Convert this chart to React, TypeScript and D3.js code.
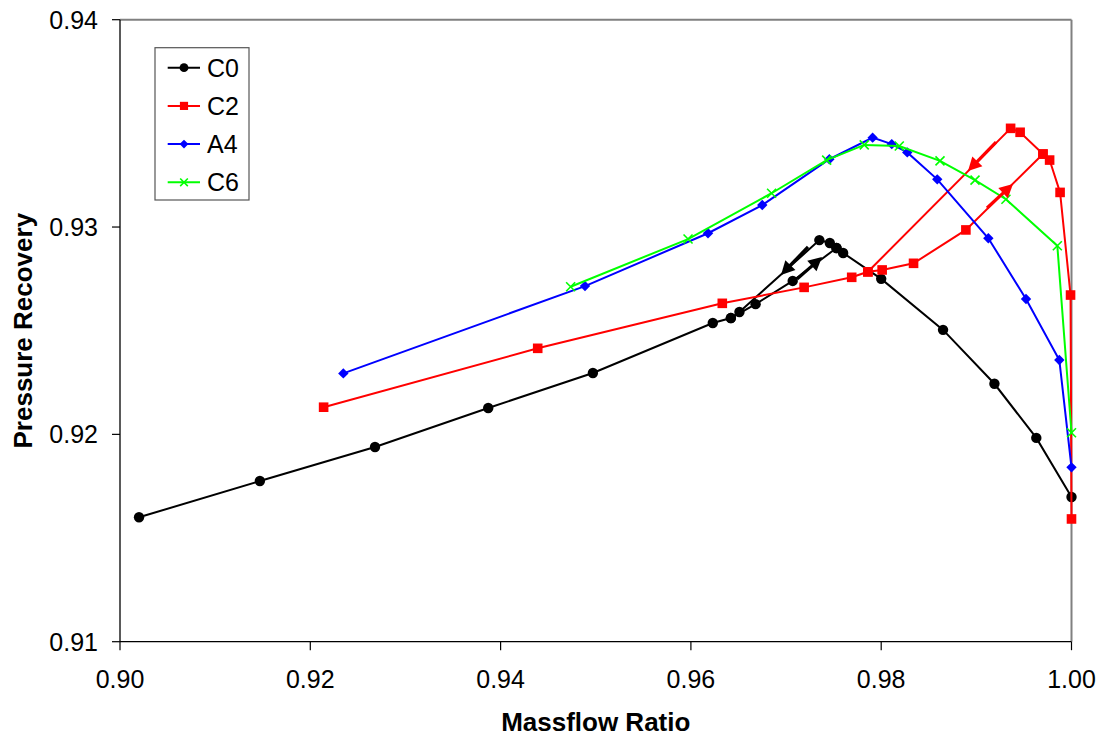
import React from "react";
import * as d3 from "d3";

type Pt = [number, number];

const xTicks = [0.9, 0.92, 0.94, 0.96, 0.98, 1.0];
const yTicks = [0.91, 0.92, 0.93, 0.94];

// C0: high-flow to low-flow sweep, then recovery branch
const c0Sweep: Pt[] = [
  [1.0, 0.91698],
  [0.9963, 0.91983],
  [0.9919, 0.92244],
  [0.9865, 0.92504],
  [0.98, 0.9275],
  [0.976, 0.92875],
  [0.9753, 0.92899],
  [0.9746, 0.92923],
  [0.9735, 0.92937],
  [0.9651, 0.9259],
  [0.9642, 0.92561],
  [0.9623, 0.92537],
  [0.9497, 0.92296],
  [0.9387, 0.92127],
  [0.9268, 0.91939],
  [0.9147, 0.91775],
  [0.902, 0.916],
];
const c0Return: Pt[] = [
  [0.9642, 0.92561],
  [0.9668, 0.92628],
  [0.9707, 0.9274],
  [0.9753, 0.92899],
];

const c2Sweep: Pt[] = [
  [1.0, 0.91592],
  [0.9999, 0.92672],
  [0.9988, 0.93167],
  [0.9977, 0.93323],
  [0.997, 0.93352],
  [0.9946, 0.93457],
  [0.9936, 0.93476],
  [0.9786, 0.92784],
  [0.9769, 0.927575],
  [0.9719, 0.92709],
  [0.9633, 0.92632],
  [0.9439, 0.92415],
  [0.9214, 0.92131],
];
const c2Return: Pt[] = [
  [0.9786, 0.92784],
  [0.9801, 0.92793],
  [0.9834, 0.92825],
  [0.9889, 0.92986],
  [0.997, 0.93352],
];

const a4: Pt[] = [
  [0.92347, 0.92294],
  [0.94887, 0.92715],
  [0.9618, 0.9297],
  [0.9675, 0.93106],
  [0.97455, 0.93327],
  [0.9791, 0.93431],
  [0.98111, 0.934],
  [0.98274, 0.9336],
  [0.98589, 0.9323],
  [0.99126, 0.92946],
  [0.99522, 0.92653],
  [0.99872, 0.92359],
  [1.0, 0.91841],
];

const c6: Pt[] = [
  [0.94736, 0.92712],
  [0.9597, 0.92942],
  [0.96848, 0.93163],
  [0.97427, 0.93323],
  [0.97822, 0.93396],
  [0.9819, 0.93391],
  [0.98618, 0.93319],
  [0.98986, 0.93226],
  [0.99311, 0.93134],
  [0.99851, 0.9291],
  [1.0, 0.92008],
];

// hysteresis arrows (data coordinates)
const c0ArrowFrom: Pt[] = [
  [0.97231, 0.92904],
  [0.97115, 0.92749],
];
const c0ArrowTo: Pt[] = [
  [0.96947, 0.92769],
  [0.97378, 0.92855],
];
const c2ArrowFrom: Pt[] = [
  [0.99207, 0.9341],
  [0.99112, 0.93092],
];
const c2ArrowTo: Pt[] = [
  [0.98912, 0.9327],
  [0.99385, 0.93208],
];

const seriesNames = ["C0", "C2", "A4", "C6"];

const W = 1104;
const H = 738;
const L = 120;
const R = 1071.5;
const T = 19.7;
const B = 641.7;
const FONT = "'Liberation Sans', Arial, Helvetica, sans-serif";

const x = d3.scaleLinear().domain([0.9, 1.0]).range([L, R]);
const y = d3.scaleLinear().domain([0.91, 0.94]).range([B, T]);
const line = d3
  .line<Pt>()
  .x((d) => x(d[0]))
  .y((d) => y(d[1]));

const COLORS: Record<string, string> = {
  C0: "#000000",
  C2: "#FF0000",
  A4: "#0000FF",
  C6: "#00FF00",
};

function Marker({ kind, cx, cy, s = 1 }: { kind: string; cx: number; cy: number; s?: number }) {
  const c = COLORS[kind];
  if (kind === "C0") return <circle cx={cx} cy={cy} r={5.2 * s} fill={c} />;
  if (kind === "C2")
    return <rect x={cx - 4.8 * s} y={cy - 4.8 * s} width={9.6 * s} height={9.6 * s} fill={c} />;
  if (kind === "A4") {
    const r = 5.2 * s;
    return (
      <polygon
        points={`${cx},${cy - r} ${cx + r},${cy} ${cx},${cy + r} ${cx - r},${cy}`}
        fill={c}
      />
    );
  }
  const r = 4.5 * s;
  return (
    <path
      d={`M${cx - r},${cy - r}L${cx + r},${cy + r}M${cx - r},${cy + r}L${cx + r},${cy - r}`}
      stroke={c}
      strokeWidth={1.6}
      fill="none"
    />
  );
}

function Arrow({ from, to, color }: { from: Pt; to: Pt; color: string }) {
  const x0 = x(from[0]);
  const y0 = y(from[1]);
  const x1 = x(to[0]);
  const y1 = y(to[1]);
  const dx = x1 - x0;
  const dy = y1 - y0;
  const len = Math.hypot(dx, dy);
  const ux = dx / len;
  const uy = dy / len;
  const hl = 13.5;
  const hw = 7;
  const bx = x1 - ux * hl;
  const by = y1 - uy * hl;
  const px = -uy;
  const py = ux;
  return (
    <g>
      <line x1={x0} y1={y0} x2={bx + ux * 1} y2={by + uy * 1} stroke={color} strokeWidth={3.2} />
      <polygon
        points={`${x1},${y1} ${bx + px * hw},${by + py * hw} ${bx - px * hw},${by - py * hw}`}
        fill={color}
      />
    </g>
  );
}

export default function App() {
  const groups: { name: string; paths: Pt[][] }[] = [
    { name: "C0", paths: [c0Sweep, c0Return] },
    { name: "C2", paths: [c2Sweep, c2Return] },
    { name: "A4", paths: [a4] },
    { name: "C6", paths: [c6] },
  ];

  return (
    <svg
      width={W}
      height={H}
      style={{ position: "absolute", left: 0, top: 0, background: "#fff" }}
      fontFamily={FONT}
    >
      <rect x={0} y={0} width={W} height={H} fill="#fff" />
      {/* plot frame */}
      <line x1={L} y1={T} x2={R} y2={T} stroke="#808080" strokeWidth={2} />
      <line x1={R} y1={T} x2={R} y2={B} stroke="#808080" strokeWidth={2} />
      <line x1={L} y1={T} x2={L} y2={B} stroke="#000" strokeWidth={1.3} />
      <line x1={L} y1={B} x2={R} y2={B} stroke="#000" strokeWidth={1.3} />

      {/* y axis ticks */}
      {yTicks.map((t) => (
        <g key={"y" + t}>
          <line x1={L - 8} x2={L} y1={y(t)} y2={y(t)} stroke="#000" strokeWidth={1.2} />
          <text x={98} y={y(t)} dy="0.36em" textAnchor="end" fontSize={25} fill="#000">
            {t.toFixed(2)}
          </text>
        </g>
      ))}
      {/* x axis ticks */}
      {xTicks.map((t) => (
        <g key={"x" + t}>
          <line x1={x(t)} x2={x(t)} y1={B} y2={B + 8.5} stroke="#000" strokeWidth={1.2} />
          <text x={x(t)} y={688} textAnchor="middle" fontSize={25} fill="#000">
            {t.toFixed(2)}
          </text>
        </g>
      ))}

      {/* axis titles */}
      <text x={(L + R) / 2} y={731} textAnchor="middle" fontSize={26} fontWeight="bold">
        Massflow Ratio
      </text>
      <text
        transform={`translate(32,${(T + B) / 2}) rotate(-90)`}
        textAnchor="middle"
        fontSize={26}
        fontWeight="bold"
      >
        Pressure Recovery
      </text>

      {/* series */}
      {groups.map((g) => (
        <g key={g.name}>
          {g.paths.map((p, i) => (
            <path key={i} d={line(p) || ""} fill="none" stroke={COLORS[g.name]} strokeWidth={2} />
          ))}
          {g.paths.map((p, i) =>
            p.map((d, j) => <Marker key={i + "-" + j} kind={g.name} cx={x(d[0])} cy={y(d[1])} />)
          )}
        </g>
      ))}

      {/* arrows */}
      {c0ArrowFrom.map((f, i) => (
        <Arrow key={"a0" + i} from={f} to={c0ArrowTo[i]} color={COLORS.C0} />
      ))}
      {c2ArrowFrom.map((f, i) => (
        <Arrow key={"a2" + i} from={f} to={c2ArrowTo[i]} color={COLORS.C2} />
      ))}

      {/* legend */}
      <rect x={155} y={47.7} width={94} height={152.3} fill="#fff" stroke="#555" strokeWidth={1.2} />
      {seriesNames.map((n, i) => {
        const ly = 67.7 + i * 38.2;
        return (
          <g key={"lg" + n}>
            <line x1={167.7} x2={200} y1={ly} y2={ly} stroke={COLORS[n]} strokeWidth={2} />
            <Marker kind={n} cx={184} cy={ly} s={0.85} />
            <text x={207} y={ly} dy="0.36em" fontSize={25} fill="#000">
              {n}
            </text>
          </g>
        );
      })}
    </svg>
  );
}
